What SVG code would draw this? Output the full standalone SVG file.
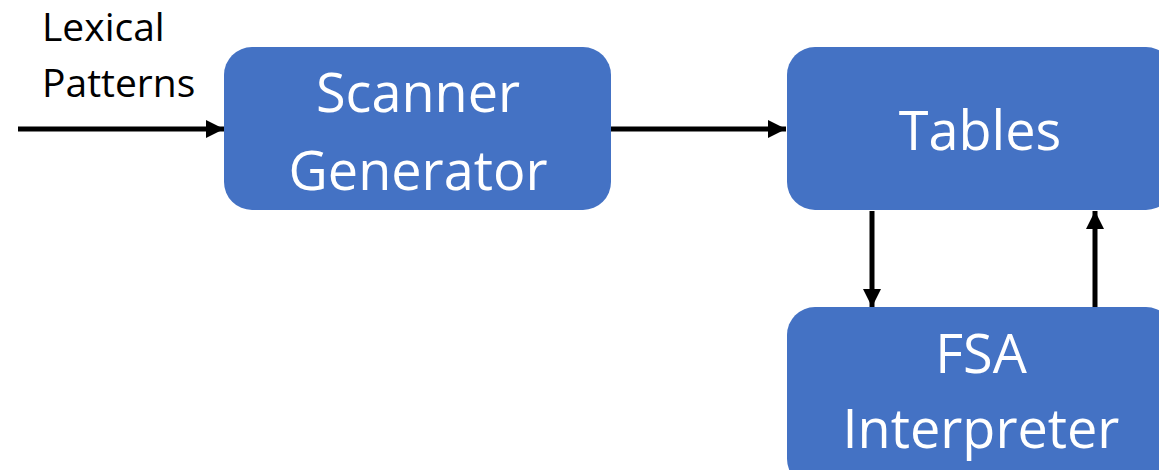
<svg xmlns="http://www.w3.org/2000/svg" width="1159" height="470" viewBox="0 0 1159 470">
  <style>
    .box { fill: #4472C4; }
    .label { font-family: "Open Sans", "Liberation Sans", sans-serif; fill: #ffffff; font-size: 54px; text-anchor: middle; }
    .note { font-family: "Open Sans", "Liberation Sans", sans-serif; fill: #000000; font-size: 39px; }
    .edge { stroke: #000000; stroke-width: 5; fill: none; }
  </style>
  <defs>
    <marker id="arrow" markerUnits="userSpaceOnUse" markerWidth="18" markerHeight="18" viewBox="0 0 18 18" refX="18" refY="9" orient="auto">
      <path d="M0,0 L18,9 L0,18 Z" fill="#000000"/>
    </marker>
  </defs>
  <rect width="1159" height="470" fill="#ffffff"/>

  <text class="note" x="42" y="41">Lexical</text>
  <text class="note" x="42" y="97">Patterns</text>

  <g id="scanner-generator">
    <rect class="box" x="224" y="47" width="387" height="163" rx="28"/>
    <text class="label" x="418" y="112">Scanner</text>
    <text class="label" x="418" y="190">Generator</text>
  </g>

  <g id="tables">
    <rect class="box" x="787" y="47" width="387" height="163" rx="28"/>
    <text class="label" x="980" y="150">Tables</text>
  </g>

  <g id="fsa-interpreter">
    <rect class="box" x="787" y="307" width="387" height="180" rx="28"/>
    <text class="label" x="981" y="373">FSA</text>
    <text class="label" x="981" y="448">Interpreter</text>
  </g>

  <g id="connectors">
    <line class="edge" x1="18" y1="129" x2="224" y2="129" marker-end="url(#arrow)"/>
    <line class="edge" x1="611" y1="129" x2="786" y2="129" marker-end="url(#arrow)"/>
    <line class="edge" x1="872" y1="211" x2="872" y2="307" marker-end="url(#arrow)"/>
    <line class="edge" x1="1095" y1="307" x2="1095" y2="211" marker-end="url(#arrow)"/>
  </g>
</svg>
